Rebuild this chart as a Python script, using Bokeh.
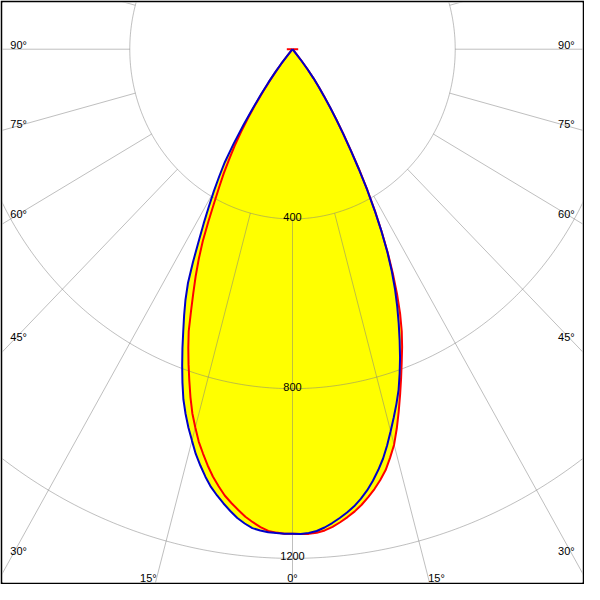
import numpy as np
from bokeh.plotting import figure
from bokeh.models import Range1d
from bokeh.core.properties import value
from bokeh.embed import file_html
from bokeh.resources import INLINE

# ---------------- data ----------------
gamma = [0, 1, 2, 3, 4, 5, 6, 7, 8, 9, 10, 11, 12, 13, 14, 15, 16, 17, 18, 19, 20,
         21, 22, 23, 24, 25, 26, 27, 28, 29, 30, 31, 32, 33, 34, 35, 36, 37, 38, 39, 40,
         41, 45, 50, 55, 60, 65, 70, 75, 80, 85, 90]
# C0 - C180 plane (blue): right half C0, left half C180
c0 = [1143, 1143, 1141, 1137, 1130, 1121, 1111, 1100, 1088, 1073, 1056,
      1036, 1014, 990, 962, 932, 903, 874, 844, 809, 773,
      735, 697, 659, 620, 578, 532, 482, 430, 378, 326,
      278, 236, 198, 165, 135, 110, 86, 60, 35, 12,
      0, 0, 0, 0, 0, 0, 0, 0, 0, 0, 0]
c180 = [1142, 1142, 1141, 1140, 1137, 1133, 1124, 1113, 1099, 1084, 1068,
        1051, 1030, 1007, 983, 955, 928, 899, 868, 831, 793,
        755, 717, 682, 647, 608, 558, 508, 465, 424, 387,
        350, 314, 266, 215, 168, 132, 98, 70, 44, 18,
        0, 0, 0, 0, 0, 0, 0, 0, 0, 0, 0]
# C90 - C270 plane (red): right half C90, left half C270
c90 = [1142, 1143, 1143, 1141, 1137, 1130, 1121, 1111, 1100, 1087, 1072,
       1056, 1038, 1018, 992, 965, 930, 893, 856, 820, 785,
       752, 717, 677, 632, 584, 535, 483, 432, 380, 328,
       280, 237, 199, 166, 136, 110, 86, 60, 35, 12,
       0, 0, 0, 0, 0, 0, 0, 0, 0, 0, 14]
c270 = [1142, 1142, 1140, 1137, 1129, 1119, 1108, 1094, 1080, 1065, 1046,
        1026, 1003, 978, 953, 923, 893, 858, 821, 785, 749,
        712, 666, 624, 585, 545, 503, 455, 410, 372, 338,
        302, 268, 232, 195, 158, 123, 92, 64, 38, 14,
        0, 0, 0, 0, 0, 0, 0, 0, 0, 0, 14]

rings = [400, 800, 1200, 1600]
ring_labels = ["400", "800", "1200"]
spoke_angles = list(range(-180, 181, 15))
side_angles = [90, 75, 60, 45, 30]
side_labels = ["90°", "75°", "60°", "45°", "30°"]
bottom_angles = [-15, 0, 15]
bottom_labels = ["15°", "0°", "15°"]

# ---------------- layout ----------------
SX = 0.418   # px per cd horizontally (reference)
SY = 0.436   # px per cd vertically (reference)
S = 580 / 596.0
FONT = value("Liberation Sans")
FSIZE = "11px"

p = figure(width=584, height=584,
           x_range=Range1d(-298 / SX, 298 / SX),
           y_range=Range1d(-548 / SY, 48 / SY),
           x_axis_type=None, y_axis_type=None,
           output_backend="svg", toolbar_location=None,
           min_border=2, border_fill_color="black",
           background_fill_color="white", outline_line_color=None)
p.grid.visible = False


def curve(left, right):
    g = np.radians(np.array(gamma, dtype=float))
    L = np.array(left, dtype=float)
    R = np.array(right, dtype=float)
    xl = -L * np.sin(g)
    yl = -L * np.cos(g)
    xr = R * np.sin(g)
    yr = -R * np.cos(g)
    xs = np.concatenate([xl[::-1], xr[1:]])
    ys = np.concatenate([yl[::-1], yr[1:]])
    return xs, ys


bx, by = curve(c180, c0)
rx, ry = curve(c270, c90)

# yellow fill (union of both planes)
p.patch(bx, by, fill_color="#ffff00", line_color=None)
p.patch(rx, ry, fill_color="#ffff00", line_color=None)

# grid
t = np.linspace(0, 2 * np.pi, 721)
p.multi_line([list(r * np.sin(t)) for r in rings], [list(r * np.cos(t)) for r in rings],
             line_color="#808080", line_alpha=0.5, line_width=1)
a = np.radians(np.array(spoke_angles, dtype=float))
p.segment(x0=rings[0] * np.sin(a), y0=-rings[0] * np.cos(a),
          x1=4000 * np.sin(a), y1=-4000 * np.cos(a),
          line_color="#808080", line_alpha=0.5, line_width=1)

# radial value labels
p.text(x=[0] * len(ring_labels), y=[-r for r in rings[:len(ring_labels)]], text=ring_labels,
       text_font=FONT, text_font_size=FSIZE, text_align="center",
       text_baseline="alphabetic", y_offset=-2 * S, text_color="black")

# side angle labels
xe = 287.5 / SX
sa = np.radians(np.array(side_angles, dtype=float))
ye = -xe * np.cos(sa) / np.sin(sa)
p.text(x=[-xe] * len(side_angles), y=list(ye), text=side_labels,
       text_font=FONT, text_font_size=FSIZE, text_align="left",
       text_baseline="alphabetic", x_offset=-2.5 * S, y_offset=-4 * S, text_color="black")
p.text(x=[xe] * len(side_angles), y=list(ye), text=side_labels,
       text_font=FONT, text_font_size=FSIZE, text_align="right",
       text_baseline="alphabetic", x_offset=2.5 * S, y_offset=-4 * S, text_color="black")

# bottom angle labels
yb = -543 / SY
ba = np.radians(np.array(bottom_angles, dtype=float))
xb = -yb * np.tan(ba)
aligns = ["right", "center", "left"]
for xi, lab, al in zip(xb, bottom_labels, aligns):
    p.text(x=[xi], y=[yb], text=[lab], text_font=FONT, text_font_size=FSIZE,
           text_align=al, text_baseline="alphabetic", text_color="black")

# curves
p.line(rx, ry, line_color="#ff0000", line_width=2)
p.line(bx, by, line_color="#0000c8", line_width=2)

open("out.html", "w").write(file_html(p, INLINE))
